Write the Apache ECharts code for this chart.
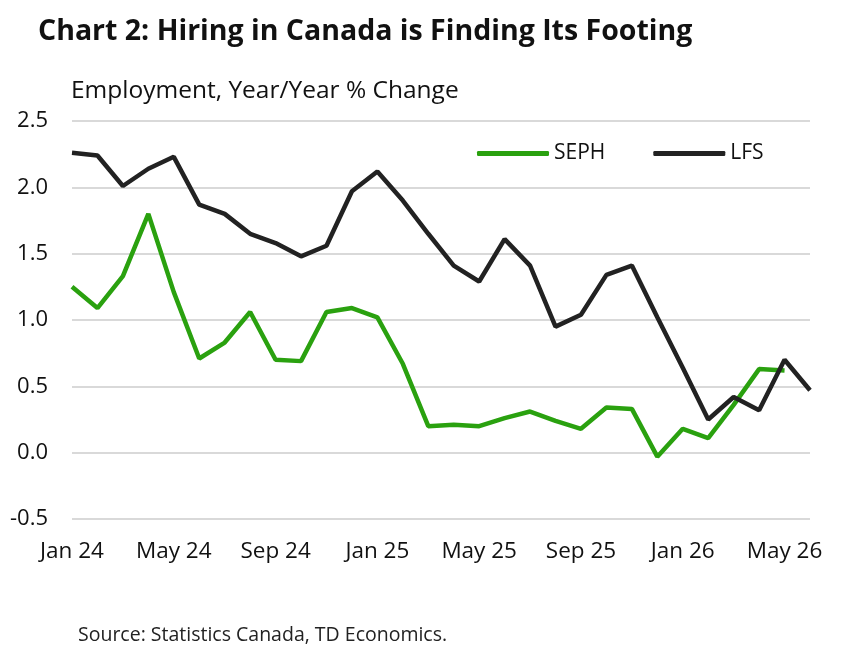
<!DOCTYPE html>
<html>
<head>
    <meta charset="utf-8">
    <title>Chart 2: Hiring in Canada is Finding Its Footing</title>
    <script src="https://cdn.jsdelivr.net/npm/echarts@6/dist/echarts.min.js"></script>
    <style>
        html, body { margin: 0; padding: 0; background: #fff; }
        #main { width: 868px; height: 648px; }
    </style>
</head>
<body>
    <div id="main"></div>
    <script type="text/javascript">
        // months Jan 24 .. Jun 26
        var months = ['Jan 24', 'Feb 24', 'Mar 24', 'Apr 24', 'May 24', 'Jun 24', 'Jul 24', 'Aug 24', 'Sep 24', 'Oct 24', 'Nov 24', 'Dec 24',
                      'Jan 25', 'Feb 25', 'Mar 25', 'Apr 25', 'May 25', 'Jun 25', 'Jul 25', 'Aug 25', 'Sep 25', 'Oct 25', 'Nov 25', 'Dec 25',
                      'Jan 26', 'Feb 26', 'Mar 26', 'Apr 26', 'May 26', 'Jun 26'];
        // SEPH has no June 26 reading yet
        var seph = [1.25, 1.09, 1.33, 1.80, 1.21, 0.71, 0.83, 1.06, 0.70, 0.69, 1.06, 1.09,
                    1.02, 0.67, 0.20, 0.21, 0.20, 0.26, 0.31, 0.24, 0.18, 0.34, 0.33, -0.03,
                    0.18, 0.11, 0.36, 0.63, 0.62, null];
        var lfs = [2.26, 2.24, 2.01, 2.14, 2.23, 1.87, 1.80, 1.65, 1.58, 1.48, 1.56, 1.97,
                   2.12, 1.90, 1.65, 1.41, 1.29, 1.61, 1.41, 0.95, 1.04, 1.34, 1.41, 1.02,
                   0.64, 0.25, 0.42, 0.32, 0.70, 0.47];
        var yTicks = [-0.5, 0, 0.5, 1.0, 1.5, 2.0, 2.5];

        var font = 'Open Sans';
        var chart = echarts.init(document.getElementById('main'));
        chart.setOption({
            animation: false,
            textStyle: { fontFamily: font },
            title: [
                {
                    text: 'Chart 2: Hiring in Canada is Finding Its Footing',
                    left: 33, top: 12,
                    textStyle: { fontFamily: font, fontSize: 28.5, fontWeight: 'bold', color: '#111' }
                },
                {
                    text: 'Employment, Year/Year % Change',
                    left: 66, top: 74,
                    textStyle: { fontFamily: font, fontSize: 24.5, fontWeight: 'normal', color: '#111' }
                },
                {
                    text: 'Source: Statistics Canada, TD Economics.',
                    left: 73, top: 620,
                    textStyle: { fontFamily: font, fontSize: 19.5, fontWeight: 'normal', color: '#222' }
                }
            ],
            legend: {
                left: 472, top: 138,
                itemWidth: 72, itemHeight: 5, itemGap: 48,
                icon: 'roundRect',
                textStyle: { fontFamily: font, fontSize: 21, color: '#111' },
                data: ['SEPH', 'LFS']
            },
            grid: { left: 72, right: 58, top: 121, bottom: 129 },
            xAxis: {
                type: 'category',
                data: months,
                boundaryGap: false,
                axisLine: { show: false },
                axisTick: { show: false },
                axisLabel: {
                    interval: 3,
                    margin: 21,
                    fontSize: 22.5,
                    color: '#111'
                },
                splitLine: { show: false }
            },
            yAxis: {
                type: 'value',
                min: yTicks[0],
                max: yTicks[yTicks.length - 1],
                interval: 0.5,
                axisLine: { show: false },
                axisTick: { show: false },
                axisLabel: {
                    margin: 24,
                    fontSize: 22,
                    color: '#111',
                    formatter: function (v) { return v.toFixed(1); }
                },
                splitLine: { lineStyle: { color: '#d9d9d9', width: 2 } }
            },
            series: [
                {
                    name: 'SEPH',
                    type: 'line',
                    data: seph,
                    showSymbol: false,
                    color: '#2aa10f',
                    lineStyle: { width: 4.5, color: '#2aa10f' }
                },
                {
                    name: 'LFS',
                    type: 'line',
                    data: lfs,
                    showSymbol: false,
                    color: '#222222',
                    lineStyle: { width: 4.5, color: '#222222' }
                }
            ]
        });
    </script>
</body>
</html>
